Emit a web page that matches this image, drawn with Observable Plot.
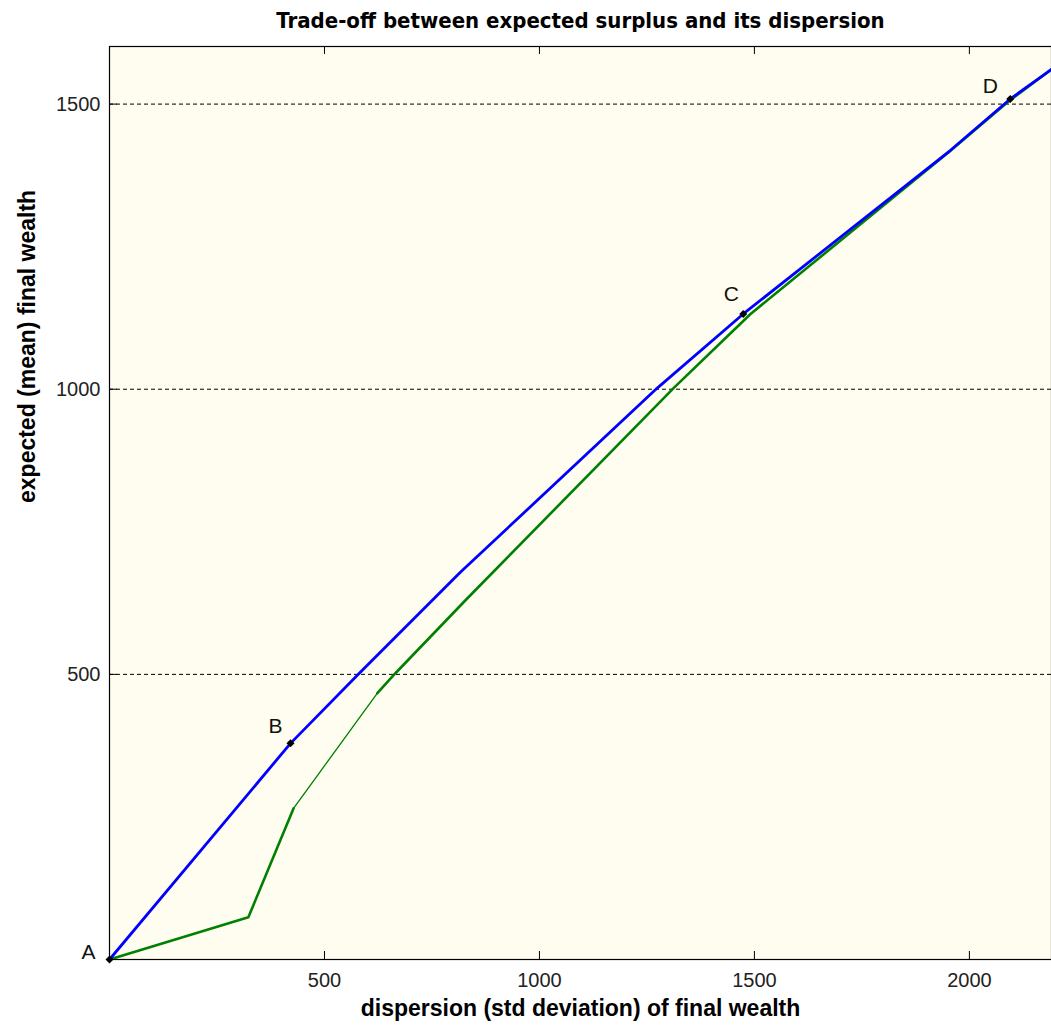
<!DOCTYPE html>
<html>
<head>
<meta charset="utf-8">
<script src="https://cdn.jsdelivr.net/npm/d3@7"></script>
<script src="https://cdn.jsdelivr.net/npm/@observablehq/plot@0.6"></script>
<style>
  html, body { margin: 0; padding: 0; background: #ffffff; }
  #chart svg { display: block; }
</style>
</head>
<body>
<div id="chart"></div>
<script>
// ---- data ----
const titleText = "Trade-off between expected surplus and its dispersion";
const xLabelText = "dispersion (std deviation) of final wealth";
const yLabelText = "expected (mean) final wealth";

const xTicks = [500, 1000, 1500, 2000];
const yTicks = [500, 1000, 1500];

const blueX = [0, 421, 581, 816, 1274, 1474, 1956, 2095, 2191];
const blueY = [0, 379, 502, 679, 1002, 1132, 1419, 1509, 1561];

const greenX = [0, 323, 428, 623, 665, 828, 1312, 1491, 1956, 2095, 2191];
const greenY = [0, 74, 265, 467, 502, 630, 1002, 1132, 1418, 1507, 1561];

const pointLabels = ["A", "B", "C", "D"];
const pointX = [0, 421, 1474, 2095];
const pointY = [0, 379, 1132, 1509];

// ---- build ----
const blue = blueX.map((x, i) => ({x, y: blueY[i]}));
const green = greenX.map((x, i) => ({x, y: greenY[i]}));
const points = pointLabels.map((label, i) => ({label, x: pointX[i], y: pointY[i]}));

const labelOffset = {A: [-21, -7], B: [-15, -17], C: [-12, -20], D: [-20, -13]};

const W = 1051, H = 1026;
const ML = 109, MR = 0, MT = 46, MB = 67;
const PW = W - ML - MR, PH = H - MT - MB;
const TICK = 8;

const fontFamily = "'Liberation Sans', Arial, sans-serif";

const chart = Plot.plot({
  width: W,
  height: H,
  marginLeft: ML,
  marginRight: MR,
  marginTop: MT,
  marginBottom: MB,
  style: {fontFamily, background: "#ffffff", color: "#000"},
  x: {domain: [0, 2191], axis: null},
  y: {domain: [0, 1601], axis: null},
  marks: [
    Plot.frame({fill: "#fffcf0", stroke: "none"}),
    Plot.ruleY(yTicks, {stroke: "#000", strokeWidth: 1, strokeDasharray: "4,3"}),
    // inner ticks
    Plot.tickX(xTicks, {x: d => d, insetTop: PH - TICK, stroke: "#000", strokeWidth: 1}),
    Plot.tickX(xTicks, {x: d => d, insetBottom: PH - TICK, stroke: "#000", strokeWidth: 1}),
    Plot.tickY(yTicks, {y: d => d, insetRight: PW - TICK, stroke: "#000", strokeWidth: 1}),
    // tick labels
    Plot.axisX({ticks: xTicks, tickSize: 0, tickPadding: 13, fontSize: 20, tickFormat: d => String(d), label: null, fill: "#222"}),
    Plot.axisY({ticks: yTicks, tickSize: 0, tickPadding: 9, fontSize: 20, tickFormat: d => String(d), label: null, fill: "#222"}),
    // green curve (thin middle section)
    Plot.line(green.slice(0, 3), {x: "x", y: "y", stroke: "#008000", strokeWidth: 2.6, strokeLinejoin: "round"}),
    Plot.line(green.slice(2, 4), {x: "x", y: "y", stroke: "#008000", strokeWidth: 1.3}),
    Plot.line(green.slice(3), {x: "x", y: "y", stroke: "#008000", strokeWidth: 2.6, strokeLinejoin: "round"}),
    // blue curve
    Plot.line(blue, {x: "x", y: "y", stroke: "#0000ff", strokeWidth: 2.8, strokeLinejoin: "round"}),
    // frame
    Plot.frame({stroke: "#000", strokeWidth: 1.2}),
    // points and labels
    Plot.dot(points, {x: "x", y: "y", r: 3.6, fill: "#000", symbol: "diamond2"}),
    Plot.text(points, {x: "x", y: "y", text: "label", fontSize: 21, fill: "#111"}),
    // title & axis labels
    Plot.text([titleText], {frameAnchor: "top", lineAnchor: "middle", dy: -26, fontSize: 22, fontWeight: "bold", fill: "#000",
      fontFamily: "'Liberation Sans Narrow', 'DejaVu Sans Condensed', 'Liberation Sans', sans-serif"}),
    Plot.text([xLabelText], {frameAnchor: "bottom", lineAnchor: "middle", dy: 49, fontSize: 23, fontWeight: "bold", fill: "#000"}),
    Plot.text([yLabelText], {frameAnchor: "left", lineAnchor: "middle", dx: -82, rotate: -90, fontSize: 23, fontWeight: "bold", fill: "#000"})
  ]
});

document.getElementById("chart").appendChild(chart);

// position point labels with per-label offsets
(function () {
  const svg = d3.select(chart);
  svg.selectAll("g[aria-label='text']").each(function () {
    const texts = d3.select(this).selectAll("text");
    const arr = texts.nodes().map(n => n.textContent);
    if (arr.length === pointLabels.length && arr.every((t, i) => t === pointLabels[i])) {
      texts.each(function (d, i) {
        const [dx, dy] = labelOffset[pointLabels[i]];
        const t = d3.select(this);
        const cur = t.attr("transform") || "";
        t.attr("transform", cur + ` translate(${dx},${dy})`);
      });
    }
  });
})();
</script>
</body>
</html>
